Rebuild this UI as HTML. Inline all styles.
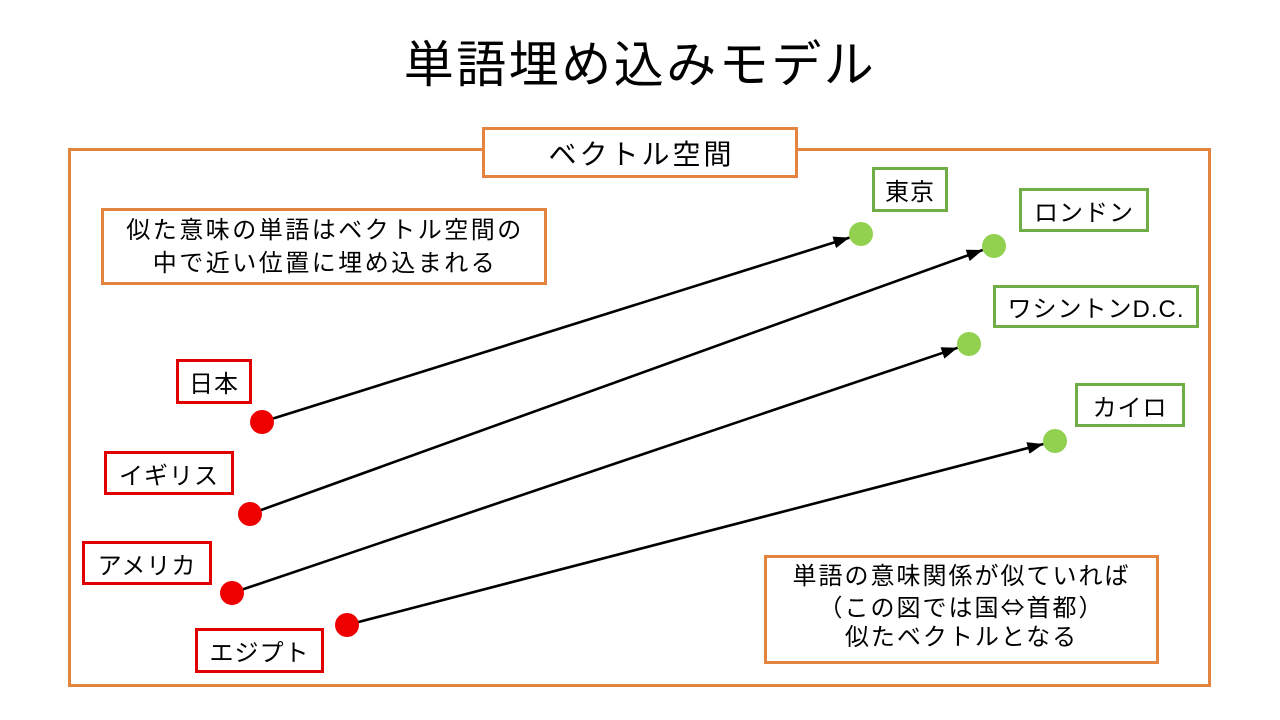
<!DOCTYPE html>
<html>
<head>
<meta charset="utf-8">
<style>
  html,body{margin:0;padding:0;background:#fff;}
  body{width:1280px;height:720px;position:relative;overflow:hidden;
       font-family:"Liberation Sans","Noto Sans CJK JP",sans-serif;color:#000;}
  .abs{position:absolute;box-sizing:border-box;}
  .box{position:absolute;box-sizing:border-box;background:#fff;display:flex;
       align-items:center;justify-content:center;text-align:center;white-space:nowrap;}
  .org{border:3px solid #E5843F;}
  .red{border:3px solid #E00000;}
  .grn{border:3px solid #70AD47;}
  .lbl{font-size:24px;letter-spacing:1px;}
  .cjk{font-family:"Noto Sans CJK JP",sans-serif;}
</style>
</head>
<body>
  <!-- Title -->
  <div class="abs" style="left:0;top:30px;width:1280px;height:70px;text-align:center;font-size:50px;line-height:70px;letter-spacing:2.5px;">単語埋め込みモデル</div>

  <!-- Outer frame -->
  <div class="abs" style="left:68px;top:148px;width:1143px;height:539px;border:3px solid #E5843F;"></div>

  <!-- Lines, arrows, dots -->
  <svg class="abs" style="left:0;top:0;" width="1280" height="720" viewBox="0 0 1280 720">
    <defs>
      <marker id="ah" markerUnits="userSpaceOnUse" markerWidth="16" markerHeight="12" refX="16" refY="6" orient="auto">
        <path d="M0,0 L16,6 L0,12 z" fill="#000"/>
      </marker>
    </defs>
    <g stroke="#000" stroke-width="2.6" fill="none">
      <line x1="262" y1="422" x2="849.5" y2="237.6" marker-end="url(#ah)"/>
      <line x1="250" y1="514" x2="982.7" y2="250" marker-end="url(#ah)"/>
      <line x1="232" y1="593" x2="957.6" y2="347.8" marker-end="url(#ah)"/>
      <line x1="347" y1="625" x2="1043.4" y2="444" marker-end="url(#ah)"/>
    </g>
    <g fill="#EE0000">
      <circle cx="262" cy="422" r="12"/>
      <circle cx="250" cy="514" r="12"/>
      <circle cx="232" cy="593" r="12"/>
      <circle cx="347" cy="625" r="12"/>
    </g>
    <g fill="#92D050">
      <circle cx="861" cy="234" r="12"/>
      <circle cx="994" cy="246" r="12"/>
      <circle cx="969" cy="344" r="12"/>
      <circle cx="1055" cy="441" r="12"/>
    </g>
  </svg>

  <!-- ベクトル空間 title box -->
  <div class="box org" style="left:482px;top:127px;width:316px;height:51px;font-size:28px;letter-spacing:3px;padding-left:3px;">ベクトル空間</div>

  <!-- Top-left description -->
  <div class="box org" style="left:101px;top:208px;width:446px;height:77px;font-size:24px;line-height:33px;letter-spacing:2.5px;padding-left:2px;">
    <div>似た意味の単語はベクトル空間の<br>中で近い位置に埋め込まれる</div>
  </div>

  <!-- Bottom-right description -->
  <div class="box org" style="left:764px;top:555px;width:395px;height:109px;font-size:24px;line-height:29px;letter-spacing:2px;padding-bottom:6px;">
    <div>単語の意味関係が似ていれば<br>（この図では国<span class="cjk">⇔</span>首都）<br>似たベクトルとなる</div>
  </div>

  <!-- Country labels -->
  <div class="box red lbl" style="left:176px;top:359px;width:76px;height:45px;">日本</div>
  <div class="box red lbl" style="left:104px;top:451px;width:130px;height:44px;">イギリス</div>
  <div class="box red lbl" style="left:82px;top:541px;width:130px;height:44px;">アメリカ</div>
  <div class="box red lbl" style="left:195px;top:628px;width:129px;height:45px;">エジプト</div>

  <!-- Capital labels -->
  <div class="box grn lbl" style="left:872px;top:167px;width:76px;height:45px;">東京</div>
  <div class="box grn lbl" style="left:1019px;top:188px;width:130px;height:44px;">ロンドン</div>
  <div class="box grn lbl" style="left:993px;top:285px;width:206px;height:43px;">ワシントンD.C.</div>
  <div class="box grn lbl" style="left:1075px;top:383px;width:110px;height:44px;">カイロ</div>
</body>
</html>
